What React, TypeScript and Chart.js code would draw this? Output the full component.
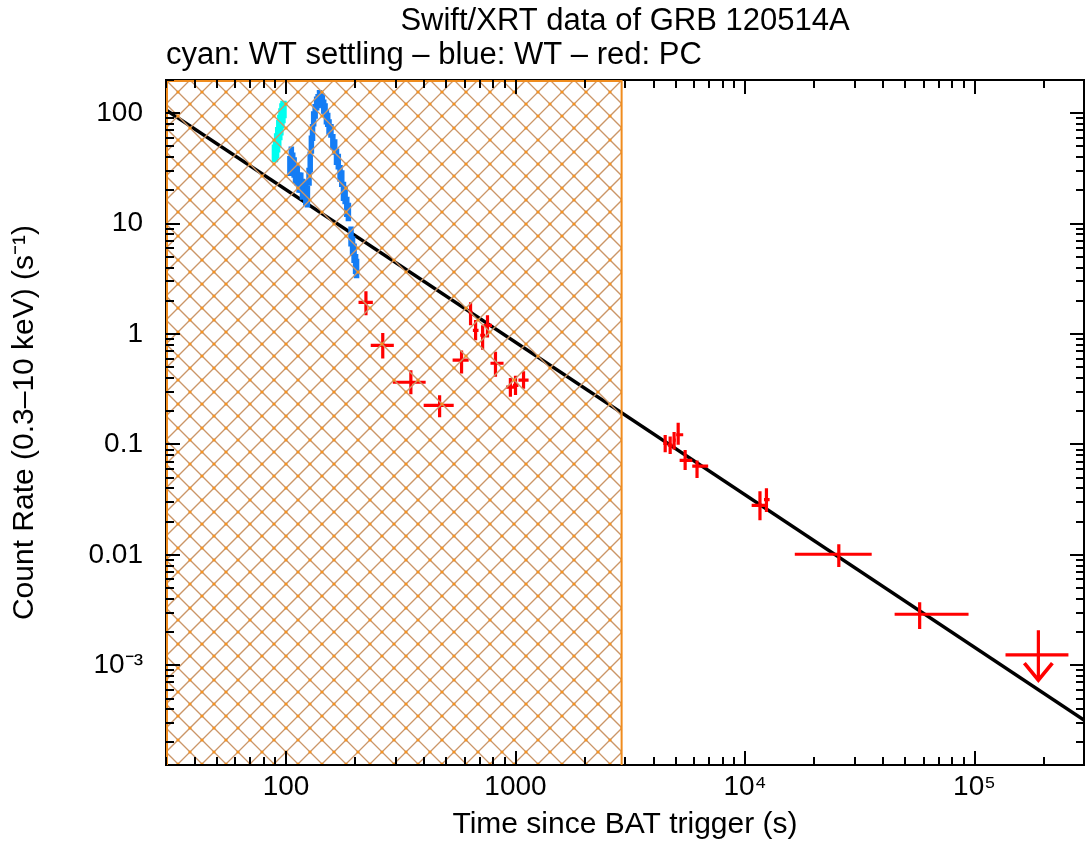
import React, { useEffect, useRef } from 'react';
import { Chart, registerables } from 'chart.js';

Chart.register(...registerables);

// ---- axes ----
const X_MIN = 30;
const X_MAX = 300000;
const Y_MIN = 1.25e-4;
const Y_MAX = 200;
const xTickValues = [100, 1000, 10000, 100000];
const xTickLabels = ['100', '1000', '10⁴', '10⁵'];
const yTickValues = [0.001, 0.01, 0.1, 1, 10, 100];
const yTickLabels = ['10⁻³', '0.01', '0.1', '1', '10', '100'];

// ---- best-fit power law (end points) ----
const fitTimes = [30, 300000];
const fitRates = [107, 3.19e-4];

// ---- excluded (hatched) interval ----
const excludedTimes = [30, 2900];

// ---- WT settling (cyan) ----
const settlingTime = [89.5, 90.5, 91.5, 92.5, 93.5, 94.5, 95.5, 96.5, 97.5];
const settlingRate = [44, 48, 55, 62, 72, 80, 92, 102, 110];
const settlingErr = [8, 9, 11, 13, 15, 17, 19, 21, 20];

// ---- WT (blue) ----
const wtTime = [104, 105.5, 107, 108.5, 110, 112, 114, 116, 118, 120, 122, 124, 126, 127.5, 129, 130.5, 132, 134, 136, 138, 140, 142, 144, 146, 148, 150, 152, 154, 157, 160, 163, 166, 169, 172, 175, 178, 181, 184, 187, 192, 195, 198, 201, 203];
const wtRate = [34, 41, 36, 33, 29, 28, 24, 24, 21, 21, 18.5, 18, 27, 37, 53, 68, 90, 105, 124, 130, 142, 136, 132, 116, 108, 93, 88, 76, 70, 56, 50, 41, 37, 29, 26, 20, 18.5, 14.5, 13, 7.8, 6.4, 5.5, 4.4, 4.0];
const wtErr = [7, 9, 8, 7, 6, 6, 5, 5, 4.5, 4, 4, 4, 5, 8, 10, 12, 14, 16, 18, 19, 20, 20, 19, 17, 15, 14, 13, 12, 10, 9, 8, 7, 6, 5, 4.5, 4, 3.5, 3, 2.5, 1.6, 1.3, 1.1, 0.9, 0.8];
const wtHalfBin = [1.2];

// ---- PC (red) ----
const pcTime = [223, 264, 350, 467, 582, 637, 670, 719, 755, 818, 950, 1000, 1084, 4490, 4720, 4910, 5115, 5485, 6180, 11620, 12400, 25630, 57680];
const pcTimeStart = [207, 234, 292, 398, 532, 625, 652, 702, 725, 778, 910, 975, 1030, 4400, 4610, 4830, 5010, 5190, 5890, 10690, 12100, 16480, 44870];
const pcTimeEnd = [239, 295, 406, 538, 625, 650, 690, 738, 790, 887, 985, 1030, 1140, 4590, 4830, 5000, 5380, 5890, 6910, 12410, 12800, 35650, 94200];
const pcRate = [1.94, 0.79, 0.366, 0.226, 0.58, 1.575, 1.08, 0.975, 1.2, 0.544, 0.33, 0.343, 0.383, 0.1025, 0.0985, 0.1095, 0.1225, 0.0719, 0.0636, 0.0281, 0.0317, 0.01013, 0.0029];
const pcRateLow = [1.48, 0.6, 0.285, 0.176, 0.44, 1.2, 0.877, 0.72, 0.93, 0.41, 0.27, 0.28, 0.32, 0.085, 0.082, 0.09, 0.0996, 0.0588, 0.0496, 0.0206, 0.0245, 0.00775, 0.00213];
const pcRateHigh = [2.44, 1.02, 0.47, 0.279, 0.71, 1.94, 1.34, 1.2, 1.48, 0.69, 0.4, 0.42, 0.46, 0.122, 0.118, 0.13, 0.157, 0.0889, 0.0717, 0.0376, 0.0401, 0.0125, 0.00373];

// ---- PC upper limit (red arrow) ----
const ulTime = [189800];
const ulTimeStart = [136500];
const ulTimeEnd = [256600];
const ulRate = [0.00124];
const ulBarTop = [0.00208];
const ulArrowTip = [7.35e-4];

const FONT = "'Liberation Sans', Arial, Helvetica, sans-serif";

function logTicks(min: number, max: number) {
  const out: { v: number; major: boolean }[] = [];
  for (let e = Math.floor(Math.log10(min)); e <= Math.ceil(Math.log10(max)); e++) {
    for (let m = 1; m < 10; m++) {
      const v = m * Math.pow(10, e);
      if (v >= min * 0.9999 && v <= max * 1.0001) out.push({ v, major: m === 1 });
    }
  }
  return out;
}

const decorPlugin = {
  id: 'xrtDecor',
  afterDatasetsDraw(chart: any) {
    const { ctx, chartArea, scales } = chart;
    const xs = scales.x;
    const ys = scales.y;
    ctx.save();
    ctx.beginPath();
    ctx.rect(chartArea.left, chartArea.top, chartArea.right - chartArea.left, chartArea.bottom - chartArea.top);
    ctx.clip();
    // error bars
    chart.data.datasets.forEach((ds: any) => {
      const eb = ds.errorBars;
      if (!eb) return;
      ctx.strokeStyle = eb.color;
      ctx.lineCap = 'butt';
      ds.data.forEach((p: any) => {
        const px = xs.getPixelForValue(p.x);
        const py = ys.getPixelForValue(p.y);
        ctx.lineWidth = eb.width;
        ctx.beginPath();
        ctx.moveTo(xs.getPixelForValue(p.xMin), py);
        ctx.lineTo(xs.getPixelForValue(p.xMax), py);
        ctx.moveTo(px, ys.getPixelForValue(p.yMin));
        ctx.lineTo(px, ys.getPixelForValue(p.yMax));
        ctx.stroke();
        if (eb.arrow) {
          const ty = ys.getPixelForValue(p.yMin);
          ctx.beginPath();
          ctx.lineWidth = eb.width + 0.5;
          ctx.moveTo(px - 14, ty - 17);
          ctx.lineTo(px, ty);
          ctx.lineTo(px + 14, ty - 17);
          ctx.stroke();
        }
      });
    });
    // hatched excluded region (drawn over the data)
    const hx0 = xs.getPixelForValue(excludedTimes[0]);
    const hx1 = xs.getPixelForValue(excludedTimes[1]);
    const top = chartArea.top;
    const bottom = chartArea.bottom;
    const h = bottom - top;
    const s = 24;
    ctx.beginPath();
    ctx.rect(hx0, top, hx1 - hx0, h);
    ctx.clip();
    ctx.strokeStyle = 'rgb(203,150,104)';
    ctx.lineWidth = 1.3;
    ctx.beginPath();
    const kMin = -Math.ceil(h / s) - 1;
    const kMax = Math.ceil((hx1 - hx0 + h) / s) + 1;
    for (let k = kMin; k <= kMax; k++) {
      const x = hx0 + k * s;
      ctx.moveTo(x, top);
      ctx.lineTo(x + h, bottom);
      ctx.moveTo(x, top);
      ctx.lineTo(x - h, bottom);
    }
    ctx.stroke();
    ctx.fillStyle = 'rgb(246,146,30)';
    const half = s / 2;
    for (let p = 0; p * half <= hx1 - hx0 + 1; p++) {
      for (let q = 0; q * half <= h + 1; q++) {
        if ((p + q) % 2 !== 0) continue;
        ctx.beginPath();
        ctx.arc(hx0 + p * half, top + q * half, 1.6, 0, Math.PI * 2);
        ctx.fill();
      }
    }
    ctx.restore();
  },
  afterDraw(chart: any) {
    const { ctx, chartArea, scales } = chart;
    const xs = scales.x;
    const ys = scales.y;
    const { left, right, top, bottom } = chartArea;
    ctx.save();
    // frame
    ctx.strokeStyle = '#000';
    ctx.lineWidth = 2;
    ctx.strokeRect(left, top, right - left, bottom - top);
    // orange border of the hatched region
    const hx0 = xs.getPixelForValue(excludedTimes[0]);
    const hx1 = xs.getPixelForValue(excludedTimes[1]);
    ctx.strokeStyle = 'rgb(240,140,30)';
    ctx.lineWidth = 2;
    ctx.beginPath();
    ctx.moveTo(hx0 + 1, bottom);
    ctx.lineTo(hx0 + 1, top + 1);
    ctx.lineTo(hx1, top + 1);
    ctx.lineTo(hx1, bottom);
    ctx.stroke();
    // inward tick marks on all four sides
    ctx.strokeStyle = '#000';
    ctx.lineWidth = 2;
    ctx.beginPath();
    logTicks(X_MIN, X_MAX).forEach(({ v, major }) => {
      const x = Math.round(xs.getPixelForValue(v));
      const len = major ? 14 : 8;
      ctx.moveTo(x, bottom);
      ctx.lineTo(x, bottom - len);
      ctx.moveTo(x, top);
      ctx.lineTo(x, top + len);
    });
    logTicks(Y_MIN, Y_MAX).forEach(({ v, major }) => {
      const y = Math.round(ys.getPixelForValue(v));
      const len = major ? 14 : 8;
      ctx.moveTo(left, y);
      ctx.lineTo(left + len, y);
      ctx.moveTo(right, y);
      ctx.lineTo(right - len, y);
    });
    ctx.stroke();
    ctx.restore();
  },
};

export default function App() {
  const ref = useRef<HTMLCanvasElement | null>(null);

  useEffect(() => {
    if (!ref.current) return;
    Chart.defaults.font.family = FONT;
    Chart.defaults.color = '#000';

    const fitData = fitTimes.map((t, i) => ({ x: t, y: fitRates[i] }));
    const settlingData = settlingTime.map((t, i) => ({
      x: t, y: settlingRate[i],
      xMin: t - 0.9, xMax: t + 0.9,
      yMin: settlingRate[i] - settlingErr[i], yMax: settlingRate[i] + settlingErr[i],
    }));
    const wtData = wtTime.map((t, i) => ({
      x: t, y: wtRate[i],
      xMin: t - wtHalfBin[0], xMax: t + wtHalfBin[0],
      yMin: wtRate[i] - wtErr[i], yMax: wtRate[i] + wtErr[i],
    }));
    const pcData = pcTime.map((t, i) => ({
      x: t, y: pcRate[i],
      xMin: pcTimeStart[i], xMax: pcTimeEnd[i],
      yMin: pcRateLow[i], yMax: pcRateHigh[i],
    }));
    const ulData = ulTime.map((t, i) => ({
      x: t, y: ulRate[i],
      xMin: ulTimeStart[i], xMax: ulTimeEnd[i],
      yMin: ulArrowTip[i], yMax: ulBarTop[i],
    }));

    const chart = new Chart(ref.current, {
      type: 'scatter',
      data: {
        datasets: [
          { label: 'Power-law fit', data: fitData, showLine: true, borderColor: '#000', borderWidth: 3.5, pointRadius: 0, fill: false } as any,
          { label: 'WT settling', data: settlingData, pointRadius: 0, errorBars: { color: 'rgb(0,255,240)', width: 6.5 } } as any,
          { label: 'WT', data: wtData, pointRadius: 0, errorBars: { color: 'rgb(20,125,245)', width: 5.5 } } as any,
          { label: 'PC', data: pcData, pointRadius: 0, errorBars: { color: 'rgb(255,0,0)', width: 3.2 } } as any,
          { label: 'PC upper limit', data: ulData, pointRadius: 0, errorBars: { color: 'rgb(255,0,0)', width: 3.2, arrow: true } } as any,
        ],
      },
      options: {
        responsive: false,
        devicePixelRatio: 1,
        animation: false,
        layout: { padding: { top: 0, right: 1, bottom: 0, left: 0 } },
        plugins: {
          legend: { display: false },
          tooltip: { enabled: false },
          title: {
            display: true,
            text: 'Swift/XRT data of GRB 120514A',
            fullSize: false,
            align: 'center',
            color: '#000',
            font: { size: 31, weight: 'normal', lineHeight: 1.1, family: FONT },
            padding: { top: 4, bottom: 0 },
          },
          subtitle: {
            display: true,
            text: 'cyan: WT settling – blue: WT – red: PC',
            fullSize: false,
            align: 'start',
            color: '#000',
            font: { size: 31, weight: 'normal', lineHeight: 1.1, family: FONT },
            padding: { top: 0, bottom: 7.8 },
          },
        },
        scales: {
          x: {
            type: 'logarithmic',
            position: 'bottom',
            min: X_MIN,
            max: X_MAX,
            bounds: 'data',
            grid: { display: false, drawTicks: false },
            border: { display: false },
            afterBuildTicks: (s: any) => { s.ticks = xTickValues.map((v) => ({ value: v })); },
            afterFit: (s: any) => { s.height = 79; },
            ticks: {
              autoSkip: false,
              maxRotation: 0,
              padding: 5,
              color: '#000',
              font: { size: 28, family: FONT },
              callback: (_v: any, i: number) => xTickLabels[i],
            },
            title: {
              display: true,
              text: 'Time since BAT trigger (s)',
              color: '#000',
              font: { size: 30, family: FONT },
              padding: { top: 0, bottom: 1 },
            },
          },
          y: {
            type: 'logarithmic',
            position: 'left',
            min: Y_MIN,
            max: Y_MAX,
            bounds: 'data',
            grid: { display: false, drawTicks: false },
            border: { display: false },
            afterBuildTicks: (s: any) => { s.ticks = yTickValues.map((v) => ({ value: v })); },
            afterFit: (s: any) => { s.width = 166; },
            ticks: {
              autoSkip: false,
              padding: 23,
              color: '#000',
              font: { size: 28, family: FONT },
              callback: (_v: any, i: number) => yTickLabels[i],
            },
            title: {
              display: true,
              text: 'Count Rate (0.3–10 keV) (s⁻¹)',
              color: '#000',
              font: { size: 30, family: FONT },
              padding: { top: 7, bottom: 0 },
            },
          },
        },
      } as any,
      plugins: [decorPlugin],
    });

    return () => chart.destroy();
  }, []);

  return (
    <div style={{ position: 'absolute', left: 0, top: 0, width: 1085, height: 844, background: '#fff' }}>
      <canvas ref={ref} width={1085} height={844} style={{ display: 'block' }} />
    </div>
  );
}
